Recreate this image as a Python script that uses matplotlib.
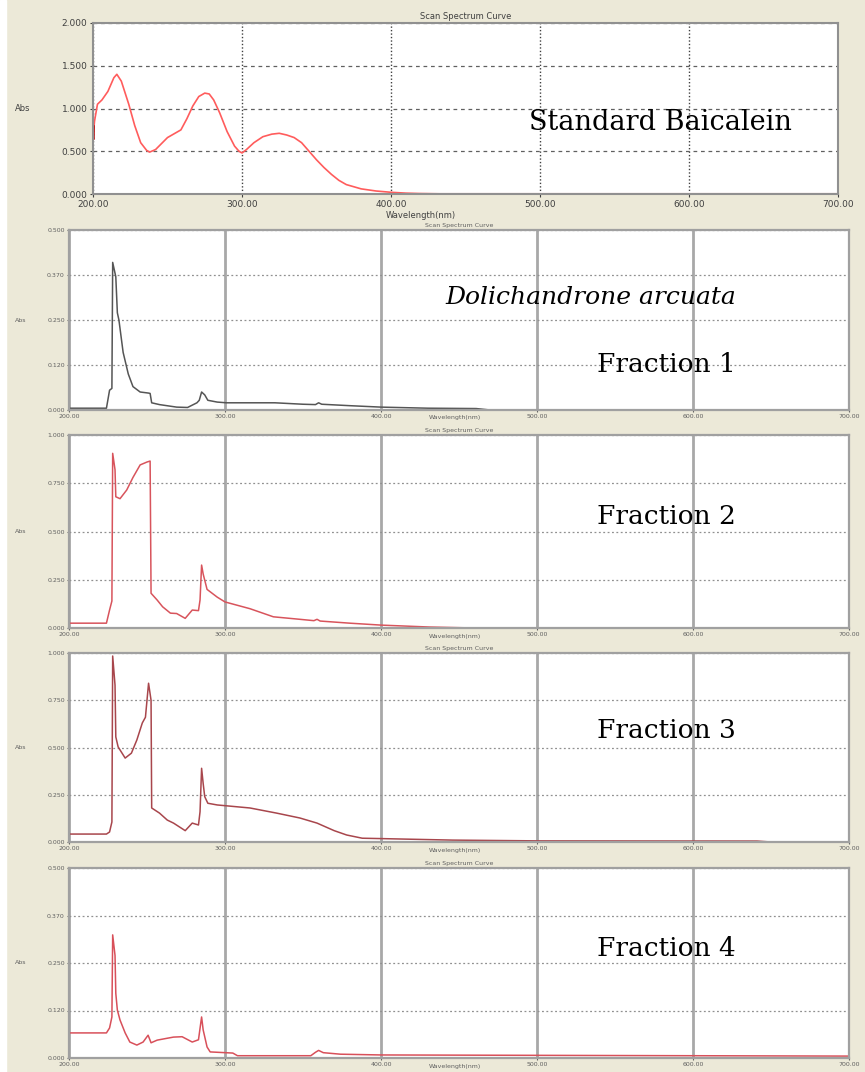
import matplotlib
matplotlib.use("Agg")
import matplotlib.pyplot as plt
from matplotlib.patches import Rectangle

# Standard Baicalein spectrum (top panel)
std_nm = [200, 201, 203, 206, 210, 214, 216, 219, 224, 228, 232, 236, 238, 242, 246, 250, 255, 259,
          263, 267, 271, 275, 278, 281, 285, 290, 295, 298, 300, 303, 308, 314, 320, 325, 330, 335,
          340, 345, 350, 355, 360, 365, 370, 380, 390, 400, 410, 420, 440, 700]
std_abs = [0.65, 0.85, 1.05, 1.10, 1.20, 1.36, 1.40, 1.32, 1.05, 0.80, 0.60, 0.51, 0.49, 0.52, 0.59,
           0.66, 0.71, 0.75, 0.88, 1.03, 1.14, 1.18, 1.17, 1.10, 0.95, 0.73, 0.56, 0.50, 0.48, 0.52,
           0.60, 0.67, 0.70, 0.71, 0.69, 0.66, 0.60, 0.50, 0.40, 0.31, 0.23, 0.16, 0.11, 0.06, 0.035,
           0.02, 0.01, 0.005, 0.0, 0.0]

# Dolichandrone arcuata fractions
f1_nm = [200, 224, 226, 227.5, 228, 229, 230, 231, 232, 234.7, 238, 241, 245.6, 251, 252, 253, 258,
         269, 276, 282, 283.5, 285, 287, 289, 295, 301, 332, 350, 358, 360, 362, 380, 400, 430, 461, 470, 700]
f1_abs = [0.005, 0.005, 0.055, 0.06, 0.41, 0.39, 0.37, 0.27, 0.25, 0.16, 0.10, 0.065, 0.05, 0.047, 0.046,
          0.02, 0.015, 0.008, 0.007, 0.02, 0.027, 0.05, 0.042, 0.027, 0.022, 0.02, 0.02, 0.016, 0.015,
          0.02, 0.016, 0.012, 0.008, 0.005, 0.004, 0.0, 0.0]

f2_nm = [200, 224, 226, 227.5, 228, 229.5, 230, 232.7, 237, 241, 245.6, 250, 252, 252.6, 256.5, 260,
         265, 269, 274.5, 279, 283, 284, 285, 286, 288.5, 295, 300, 316, 331, 348, 357, 359, 361,
         380, 400, 431, 460, 700]
f2_abs = [0.025, 0.025, 0.093, 0.14, 0.905, 0.82, 0.68, 0.67, 0.715, 0.78, 0.845, 0.86, 0.865, 0.18,
          0.145, 0.11, 0.077, 0.075, 0.05, 0.093, 0.09, 0.145, 0.326, 0.28, 0.20, 0.16, 0.135, 0.10,
          0.058, 0.045, 0.038, 0.045, 0.036, 0.025, 0.015, 0.005, 0.0, 0.0]

f3_nm = [200, 224, 226, 227.5, 228, 229.5, 230, 231.5, 236, 240, 243.5, 247, 249, 250, 251, 252.6,
         253, 258, 263, 267, 274.5, 279, 283, 284, 285, 286, 287, 289, 295, 316, 333, 348, 359, 370,
         378, 388, 400, 446, 500, 641, 650, 700]
f3_abs = [0.042, 0.042, 0.053, 0.106, 0.984, 0.83, 0.556, 0.503, 0.444, 0.47, 0.54, 0.63, 0.66, 0.75,
          0.84, 0.75, 0.18, 0.153, 0.116, 0.10, 0.06, 0.10, 0.09, 0.16, 0.39, 0.31, 0.24, 0.205, 0.196,
          0.18, 0.153, 0.127, 0.10, 0.06, 0.037, 0.02, 0.018, 0.01, 0.006, 0.005, 0.0, 0.0]

f4_nm = [200, 224, 226, 227.5, 228, 229.5, 230, 231, 232.7, 236, 239, 243.5, 247.5, 250.7, 252.6,
         256.5, 263, 267, 272.5, 279, 283, 285, 286, 288.5, 290.5, 305, 308, 355, 358, 360, 363, 374,
         400, 700]
f4_abs = [0.066, 0.066, 0.079, 0.108, 0.324, 0.27, 0.17, 0.126, 0.10, 0.066, 0.042, 0.034, 0.042, 0.06,
          0.04, 0.047, 0.052, 0.055, 0.056, 0.042, 0.048, 0.108, 0.074, 0.029, 0.016, 0.013, 0.006,
          0.006, 0.015, 0.02, 0.014, 0.01, 0.008, 0.005]

fractions = [
    (f1_nm, f1_abs, "#555555", 0.5, ["0.000", "0.120", "0.250", "0.370", "0.500"]),
    (f2_nm, f2_abs, "#d8545c", 1.0, ["0.000", "0.250", "0.500", "0.750", "1.000"]),
    (f3_nm, f3_abs, "#a8464c", 1.0, ["0.000", "0.250", "0.500", "0.750", "1.000"]),
    (f4_nm, f4_abs, "#d8505a", 0.5, ["0.000", "0.120", "0.250", "0.370", "0.500"]),
]
fraction_labels = ["Fraction 1", "Fraction 2", "Fraction 3", "Fraction 4"]

W, H = 865, 1072
BG = "#ece9d8"
fig = plt.figure(figsize=(W / 100, H / 100), dpi=100, facecolor=BG)
# thin white strip on the left edge of the screenshot
fig.patches.append(Rectangle((0, 0), 6 / W, 1, transform=fig.transFigure, color="white", zorder=-1))


def box(left, top, right, bottom):
    return [left / W, 1 - bottom / H, (right - left) / W, (bottom - top) / H]


# ---- top panel ----
ax = fig.add_axes(box(93, 23, 838, 194))
ax.plot(std_nm, std_abs, color="#ff5c5c", lw=1.2)
ax.plot([200, 200], [0.65, 0.80], color="#b00000", lw=1.8)
ax.plot([420, 700], [0.004, 0.004], color="#c05050", lw=1.5)
ax.set_xlim(200, 700)
ax.set_ylim(0, 2)
ax.set_xticks([200, 300, 400, 500, 600, 700])
ax.set_xticklabels(["200.00", "300.00", "400.00", "500.00", "600.00", "700.00"])
ax.set_yticks([0, 0.5, 1.0, 1.5, 2.0])
ax.set_yticklabels(["0.000", "0.500", "1.000", "1.500", "2.000"])
ax.tick_params(labelsize=6.5, colors="#404040", length=2, pad=2)
ax.yaxis.grid(True, ls=(0, (3, 3)), color="#606060", lw=0.9)
ax.xaxis.grid(True, ls=(0, (1, 1.5)), color="#404040", lw=1.0)
for s in ax.spines.values():
    s.set_color("#909090")
    s.set_linewidth(1.5)
ax.set_title("Scan Spectrum Curve", fontsize=6, color="#404040", pad=3)
ax.text(0.44, -0.1, "Wavelength(nm)", transform=ax.transAxes, fontsize=6, color="#404040",
        ha="center", va="top")
ax.text(-0.095, 0.5, "Abs", transform=ax.transAxes, fontsize=6, color="#404040", ha="center", va="center")
ax.text(0.585, 0.42, "Standard Baicalein", transform=ax.transAxes, fontsize=19.5,
        family="DejaVu Serif", color="black", ha="left", va="center")

# ---- fraction panels ----
panel_px = [(230, 410), (435, 628), (653, 842), (868, 1058)]
label_y = [364, 516, 730, 949]
for i, (nm, ab, col, ymax, ylabs) in enumerate(fractions):
    top, bot = panel_px[i]
    ax = fig.add_axes(box(69, top, 849, bot))
    ax.plot(nm, ab, color=col, lw=1.1)
    ax.set_xlim(200, 700)
    ax.set_ylim(0, ymax)
    ax.set_xticks([200, 300, 400, 500, 600, 700])
    ax.set_xticklabels(["200.00", "300.00", "400.00", "500.00", "600.00", "700.00"])
    ax.set_yticks([ymax * k / 4 for k in range(5)])
    ax.set_yticklabels(ylabs)
    ax.tick_params(labelsize=4.5, colors="#606060", length=1.5, pad=1.5)
    ax.yaxis.grid(True, ls=(0, (1.5, 2)), color="#909090", lw=0.9)
    ax.xaxis.grid(True, ls="-", color="#a8a8a8", lw=2.0)
    for s in ax.spines.values():
        s.set_color("#a0a0a0")
        s.set_linewidth(1.6)
    ax.set_title("Scan Spectrum Curve", fontsize=4.5, color="#606060", pad=2)
    ax.text(0.495, -0.03, "Wavelength(nm)", transform=ax.transAxes, fontsize=4.5, color="#606060",
            ha="center", va="top")
    ax.text(-0.062, 0.5, "Abs", transform=ax.transAxes, fontsize=4.5, color="#606060",
            ha="center", va="center")
    fig.text(597 / W, 1 - label_y[i] / H, fraction_labels[i], fontsize=19, family="DejaVu Serif",
             ha="left", va="center")
    if i == 0:
        fig.text(445 / W, 1 - 297 / H, "Dolichandrone arcuata", fontsize=18, family="DejaVu Serif",
                 style="italic", ha="left", va="center")

fig.savefig("out.png", dpi=100, facecolor=BG)
